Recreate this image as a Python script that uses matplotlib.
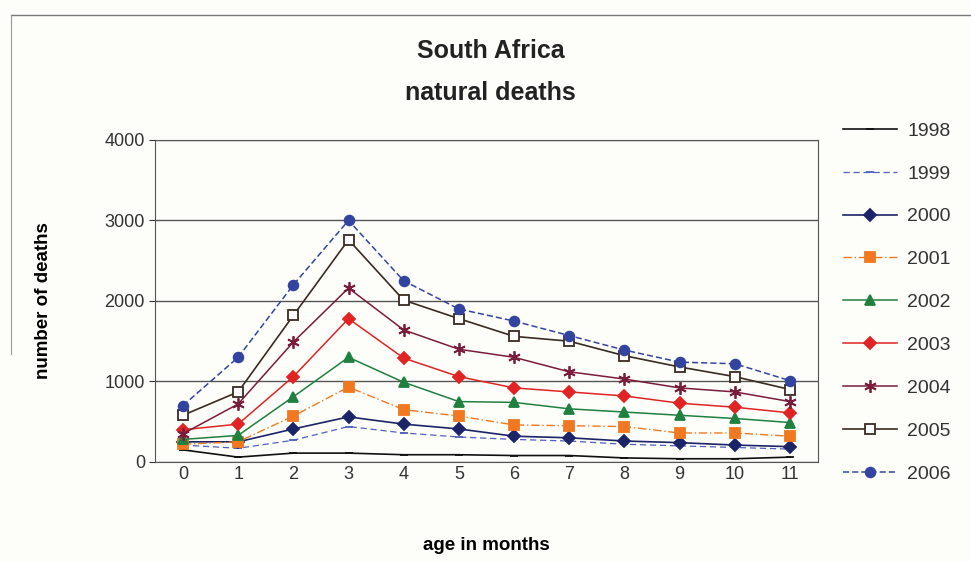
import matplotlib.pyplot as plt
from matplotlib.lines import Line2D

# age in months (category axis)
months = list(range(12))

# number of natural deaths per year
deaths_1998 = [150, 60, 110, 110, 90, 90, 80, 80, 50, 40, 40, 60]
deaths_1999 = [210, 170, 270, 440, 360, 310, 280, 260, 220, 200, 180, 160]
deaths_2000 = [250, 250, 410, 560, 470, 410, 320, 300, 260, 240, 210, 190]
deaths_2001 = [220, 250, 570, 930, 650, 570, 460, 450, 440, 360, 360, 320]
deaths_2002 = [280, 330, 810, 1300, 990, 750, 740, 660, 620, 580, 540, 490]
deaths_2003 = [400, 470, 1060, 1780, 1290, 1060, 920, 870, 820, 730, 680, 610]
deaths_2004 = [350, 720, 1490, 2160, 1640, 1400, 1300, 1120, 1030, 920, 870, 750]
deaths_2005 = [580, 870, 1820, 2760, 2010, 1780, 1560, 1500, 1320, 1180, 1060, 900]
deaths_2006 = [700, 1300, 2200, 3000, 2250, 1900, 1750, 1570, 1390, 1240, 1220, 1010]

years = ['1998', '1999', '2000', '2001', '2002', '2003', '2004', '2005', '2006']
series = [deaths_1998, deaths_1999, deaths_2000, deaths_2001, deaths_2002,
          deaths_2003, deaths_2004, deaths_2005, deaths_2006]

# style for each year: colour, marker, linestyle, marker size, fill
styles = [
    dict(color='#111111', marker='_', linestyle='-', markersize=6, lw=1.2),
    dict(color='#5060c0', marker='_', linestyle=(0, (5, 3)), markersize=6, lw=0.9),
    dict(color='#1c2468', marker='D', linestyle='-', markersize=6, lw=1.2),
    dict(color='#f07820', marker='s', linestyle=(0, (6, 2, 1, 2)), markersize=6.5, lw=1.0),
    dict(color='#1f8040', marker='^', linestyle='-', markersize=7, lw=1.1),
    dict(color='#e02424', marker='D', linestyle='-', markersize=6, lw=1.1),
    dict(color='#7a1c3c', marker=(6, 2, 0), linestyle='-', markersize=9, lw=1.1),
    dict(color='#3a2a22', marker='s', linestyle='-', markersize=7, lw=1.2,
         markerfacecolor='white'),
    dict(color='#3344a0', marker='o', linestyle=(0, (4, 2)), markersize=7, lw=1.1),
]

plt.rcParams['font.family'] = ['Liberation Sans', 'DejaVu Sans']

fig = plt.figure(figsize=(9.71, 5.62), dpi=100)
fig.patch.set_facecolor('#fdfdfa')
ax = fig.add_axes([0.16, 0.178, 0.682, 0.573])
ax.set_facecolor('#fdfdfa')

for vals, year, st in zip(series, years, styles):
    ax.plot(months, vals, label=year, markeredgewidth=1.3, **st)

ax.set_xlim(-0.5, 11.5)
ax.set_ylim(0, 4000)
ax.set_yticks([0, 1000, 2000, 3000, 4000])
ax.set_xticks(months)
ax.yaxis.grid(True, color='#555555', linewidth=1.0)
ax.set_axisbelow(True)
for side in ['left', 'right', 'top', 'bottom']:
    ax.spines[side].set_color('#555555')
ax.tick_params(axis='both', labelsize=13, colors='#333333', length=4)
ax.tick_params(axis='x', pad=3, length=0)

ax.set_xlabel('age in months', fontsize=13.5, fontweight='bold', labelpad=39)
ax.set_ylabel('number of deaths', fontsize=13.5, fontweight='bold', labelpad=38)

fig.text(0.505, 0.91, 'South Africa', ha='center', va='center',
         fontsize=18, fontweight='bold', color='#222222')
fig.text(0.505, 0.835, 'natural deaths', ha='center', va='center',
         fontsize=18, fontweight='bold', color='#222222')

leg = ax.legend(loc='upper left', bbox_to_anchor=(1.012, 1.11), frameon=False,
                fontsize=14, handlelength=2.8, labelspacing=1.3,
                handletextpad=0.5)
for t in leg.get_texts():
    t.set_color('#333333')

# faint outer chart frame (top and left edges)
fig.add_artist(Line2D([0.011, 1.0], [0.973, 0.973], color='#777777', lw=1.0))
fig.add_artist(Line2D([0.011, 0.011], [0.973, 0.37], color='#999999', lw=0.8))

fig.savefig('out.png', dpi=100, facecolor=fig.get_facecolor())
